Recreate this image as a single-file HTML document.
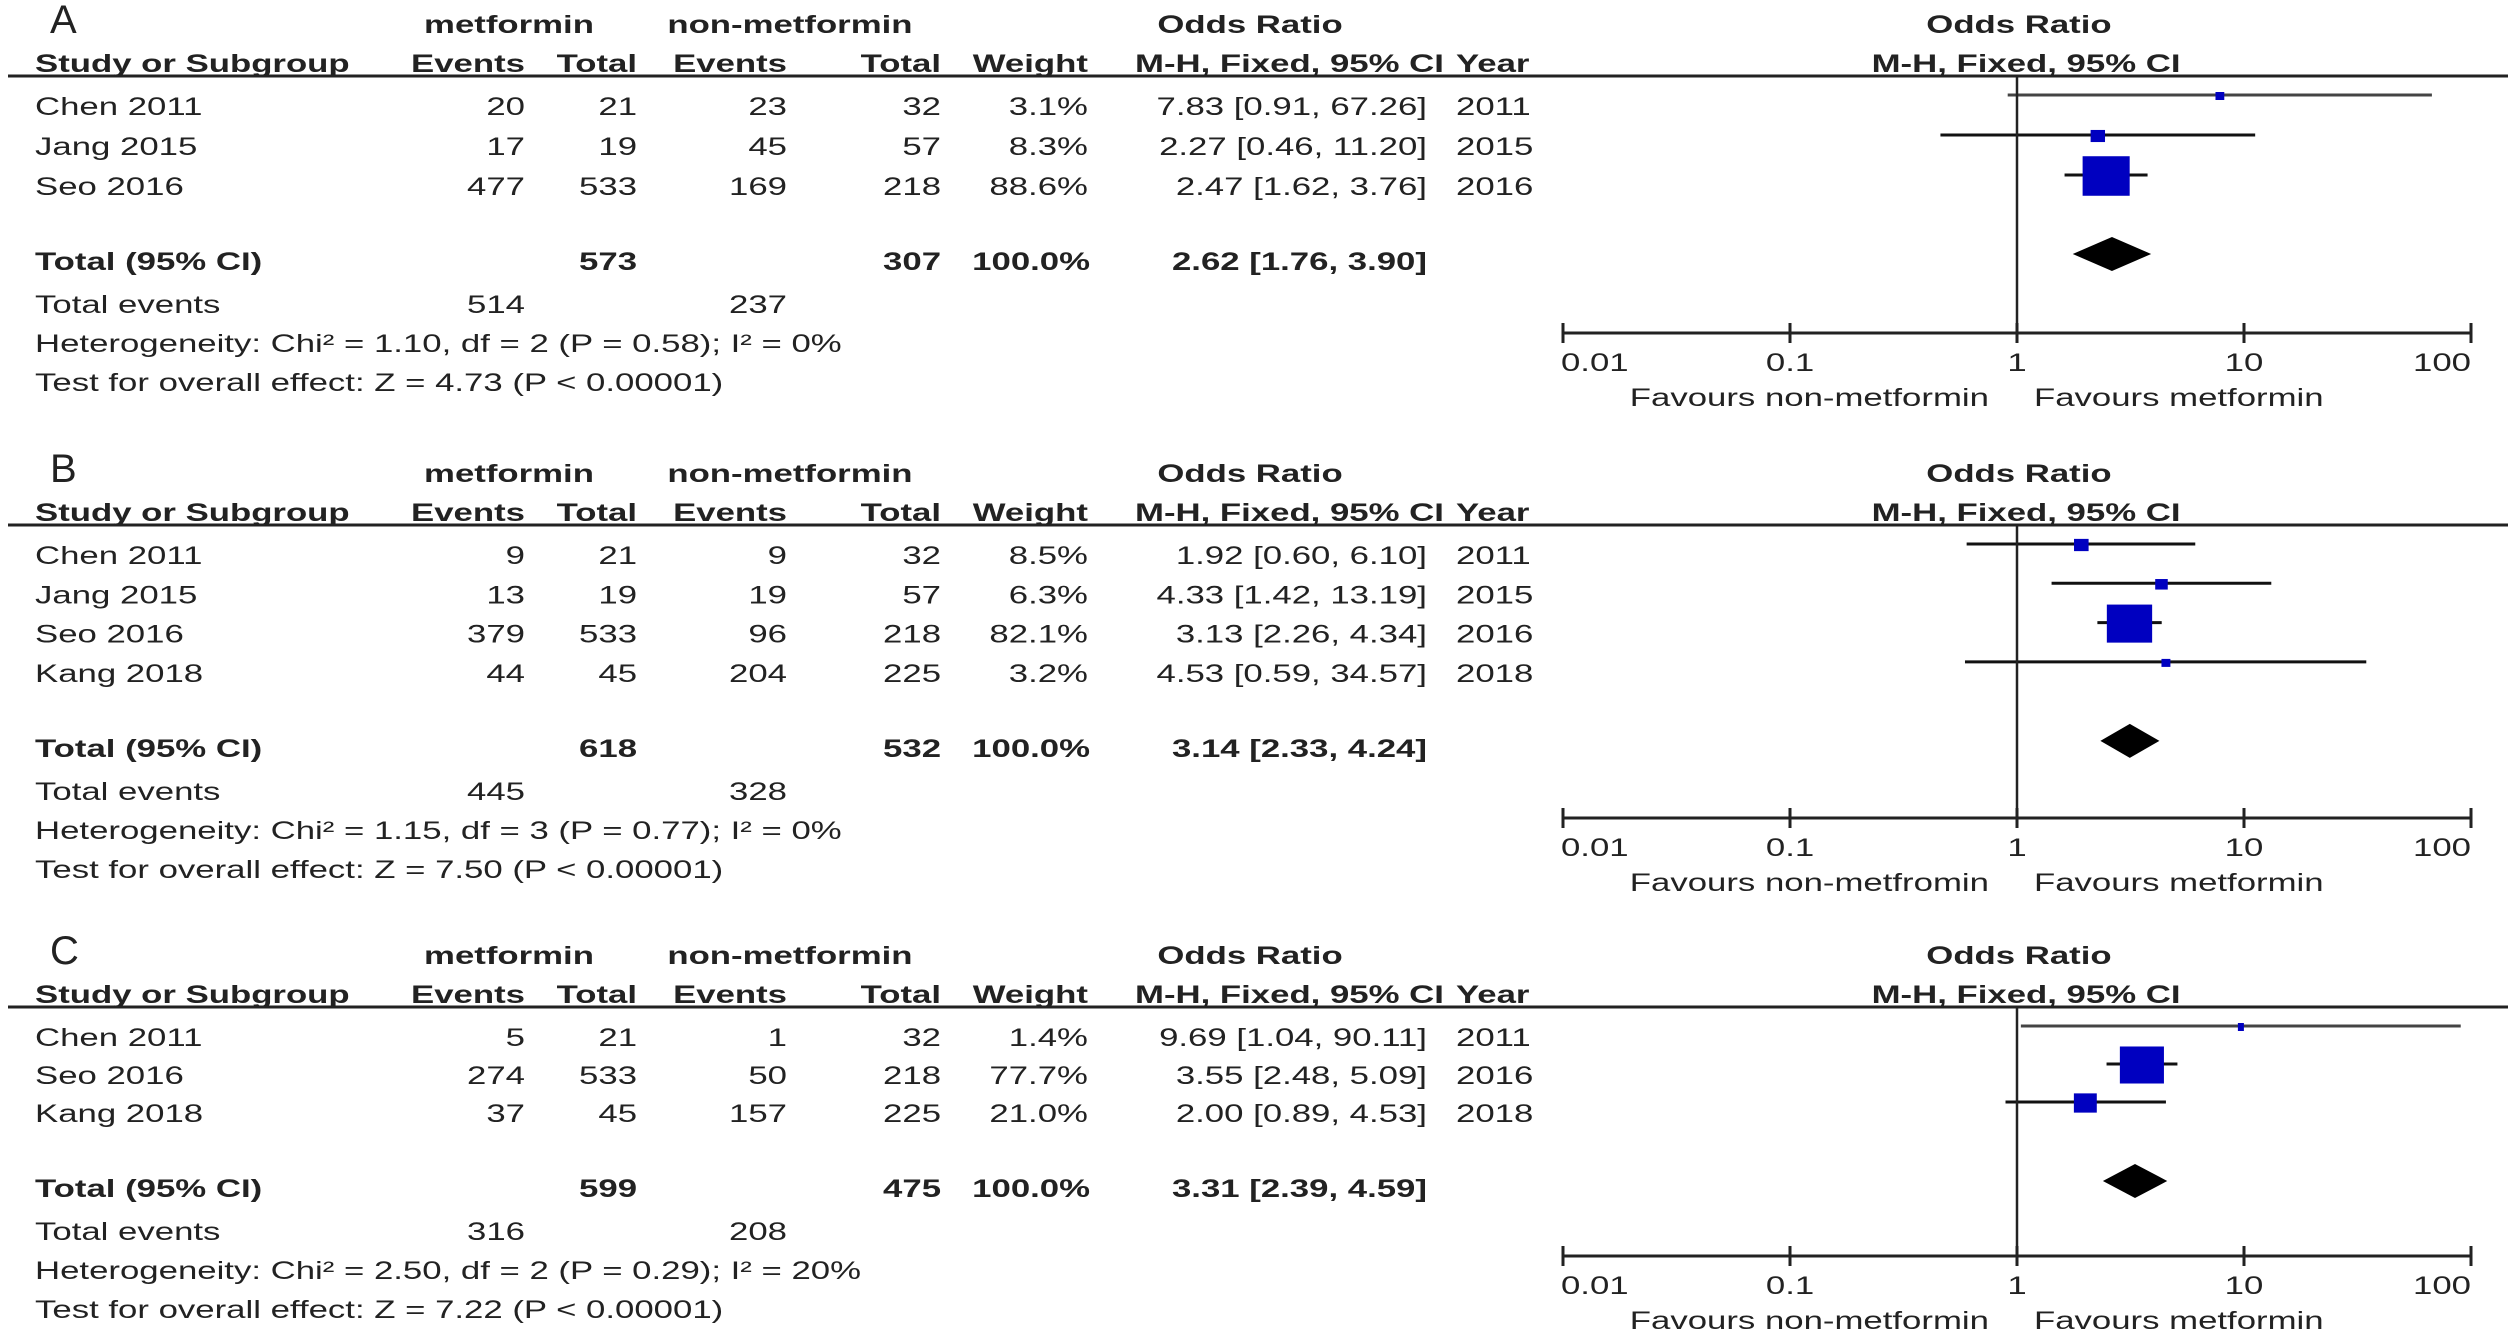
<!DOCTYPE html>
<html><head><meta charset="utf-8"><style>
html,body{margin:0;padding:0;background:#fff;}
svg{display:block;}
text{font-family:"Liberation Sans",Arial,sans-serif;fill:#222;}
</style></head><body>
<svg id="fig" width="2508" height="1333" viewBox="0 0 2508 1333" xmlns="http://www.w3.org/2000/svg"></svg>
<script>
// ---- data ----
const panelLabels = ["A","B","C"];
const studiesA = ["Chen 2011","Jang 2015","Seo 2016"];
const studiesB = ["Chen 2011","Jang 2015","Seo 2016","Kang 2018"];
const studiesC = ["Chen 2011","Seo 2016","Kang 2018"];
const mEventsA=[20,17,477], mTotalA=[21,19,533], nEventsA=[23,45,169], nTotalA=[32,57,218];
const weightA=[3.1,8.3,88.6], orA=[7.83,2.27,2.47], loA=[0.91,0.46,1.62], hiA=[67.26,11.20,3.76], yearA=[2011,2015,2016];
const mEventsB=[9,13,379,44], mTotalB=[21,19,533,45], nEventsB=[9,19,96,204], nTotalB=[32,57,218,225];
const weightB=[8.5,6.3,82.1,3.2], orB=[1.92,4.33,3.13,4.53], loB=[0.60,1.42,2.26,0.59], hiB=[6.10,13.19,4.34,34.57], yearB=[2011,2015,2016,2018];
const mEventsC=[5,274,37], mTotalC=[21,533,45], nEventsC=[1,50,157], nTotalC=[32,218,225];
const weightC=[1.4,77.7,21.0], orC=[9.69,3.55,2.00], loC=[1.04,2.48,0.89], hiC=[90.11,5.09,4.53], yearC=[2011,2016,2018];
const totalM=[573,618,599], totalN=[307,532,475];
const pooledOR=[2.62,3.14,3.31], pooledLo=[1.76,2.33,2.39], pooledHi=[3.90,4.24,4.59];
const totEvM=[514,445,316], totEvN=[237,328,208];
const hetText=["Heterogeneity: Chi² = 1.10, df = 2 (P = 0.58); I² = 0%","Heterogeneity: Chi² = 1.15, df = 3 (P = 0.77); I² = 0%","Heterogeneity: Chi² = 2.50, df = 2 (P = 0.29); I² = 20%"];
const testText=["Test for overall effect: Z = 4.73 (P < 0.00001)","Test for overall effect: Z = 7.50 (P < 0.00001)","Test for overall effect: Z = 7.22 (P < 0.00001)"];
const favLeft=["Favours non-metformin","Favours non-metfromin","Favours non-metformin"];
const tickVals=[0.01,0.1,1,10,100];
const tickLabels=["0.01","0.1","1","10","100"];

// ---- layout ----
const NS="http://www.w3.org/2000/svg";
const svg=document.getElementById('fig');
const SX=1.39;
const offs=[0,449,931];
const rowGap=[40,39.3,38];
const axisY=[333,818,1256];
function xs(v){return 2017+Math.log10(v)*227;}
function f2(v){return v.toFixed(2);}
function el(tag,attrs,parent){const e=document.createElementNS(NS,tag);for(const k in attrs)e.setAttribute(k,attrs[k]);(parent||svg).appendChild(e);return e;}
const tg=el('g',{transform:'scale('+SX+',1)'});


function T(x,y,s,anchor,bold,name){const t=el('text',{x:(x/SX).toFixed(1),y:y,'font-size':25,'text-anchor':anchor||'start'},tg);if(bold)t.setAttribute('font-weight','bold');t.textContent=s;

return t;}
function fmtCI(o,l,h){return f2(o)+' ['+f2(l)+', '+f2(h)+']';}

const P=[
 {st:studiesA,me:mEventsA,mt:mTotalA,ne:nEventsA,nt:nTotalA,w:weightA,or:orA,lo:loA,hi:hiA,yr:yearA},
 {st:studiesB,me:mEventsB,mt:mTotalB,ne:nEventsB,nt:nTotalB,w:weightB,or:orB,lo:loB,hi:hiB,yr:yearB},
 {st:studiesC,me:mEventsC,mt:mTotalC,ne:nEventsC,nt:nTotalC,w:weightC,or:orC,lo:loC,hi:hiC,yr:yearC}];

P.forEach((p,k)=>{
  const o=offs[k];
  const lab=el('text',{x:50,y:o+33,'font-size':40});lab.textContent=panelLabels[k];
  
  
  T(509,o+33,'metformin','middle',true,'metformin-header');
  T(790,o+33,'non-metformin','middle',true,'non-metformin-header');
  T(1250,o+33,'Odds Ratio','middle',true,'odds-ratio-header');
  T(2019,o+33,'Odds Ratio','middle',true,'plot-odds-ratio-header');
  const y2=o+72;
  T(35,y2,'Study or Subgroup','start',true,'study-header');
  T(525,y2,'Events','end',true,'events-header');
  T(637,y2,'Total','end',true,'total-header');
  T(787,y2,'Events','end',true,'events-header');
  T(941,y2,'Total','end',true,'total-header');
  T(1088,y2,'Weight','end',true,'weight-header');
  T(1444,y2,'M-H, Fixed, 95% CI','end',true,'method-header');
  T(1456,y2,'Year','start',true,'year-header');
  T(2026,y2,'M-H, Fixed, 95% CI','middle',true,'plot-method-header');
  const hl=el('line',{x1:8,x2:2508,y1:o+76,y2:o+76,stroke:'#222','stroke-width':3});
  
  
  let lastY=0;
  p.st.forEach((s,i)=>{
    const y=o+115+rowGap[k]*i; lastY=y;
    T(35,y,s,'start',false,'study-name');
    T(525,y,String(p.me[i]),'end',false,'metformin-events');
    T(637,y,String(p.mt[i]),'end',false,'metformin-total');
    T(787,y,String(p.ne[i]),'end',false,'non-metformin-events');
    T(941,y,String(p.nt[i]),'end',false,'non-metformin-total');
    T(1088,y,p.w[i].toFixed(1)+'%','end',false,'weight');
    T(1427,y,fmtCI(p.or[i],p.lo[i],p.hi[i]),'end',false,'odds-ratio-ci');
    T(1456,y,String(p.yr[i]),'start',false,'year');
    const cy=y-20;
    const ci=el('line',{x1:xs(p.lo[i]),x2:xs(p.hi[i]),y1:cy,y2:cy,stroke:(i==0&&k!=1)?'#444':'#111','stroke-width':3});
    
    
    const sw=Math.max(6,5*Math.sqrt(p.w[i])), sh=Math.max(8,4.2*Math.sqrt(p.w[i]));
    const sq=el('rect',{x:xs(p.or[i])-sw/2,y:cy-sh/2+1,width:sw,height:sh,fill:'#0000c0'});
    
    
  });
  const ty=lastY+75;
  T(35,ty,'Total (95% CI)','start',true,'total-label');
  T(637,ty,String(totalM[k]),'end',true,'metformin-total-sum');
  T(941,ty,String(totalN[k]),'end',true,'non-metformin-total-sum');
  T(1090,ty,'100.0%','end',true,'total-weight');
  T(1427,ty,fmtCI(pooledOR[k],pooledLo[k],pooledHi[k]),'end',true,'pooled-odds-ratio');
  const dy=ty-16;
  const dm=el('polygon',{points:[xs(pooledLo[k])+','+dy, xs(pooledOR[k])+','+(dy-17), xs(pooledHi[k])+','+dy, xs(pooledOR[k])+','+(dy+17)].join(' '),fill:'#000'});
  
  
  T(35,ty+43,'Total events','start',false,'total-events-label');
  T(525,ty+43,String(totEvM[k]),'end',false,'metformin-total-events');
  T(787,ty+43,String(totEvN[k]),'end',false,'non-metformin-total-events');
  T(35,ty+82,hetText[k],'start',false,'heterogeneity-text');
  T(35,ty+121,testText[k],'start',false,'overall-effect-text');
  const ay=axisY[k];
  const vl=el('line',{x1:xs(1),x2:xs(1),y1:o+76,y2:ay,stroke:'#222','stroke-width':2.5});
  
  
  const ax=el('line',{x1:xs(0.01),x2:xs(100),y1:ay,y2:ay,stroke:'#222','stroke-width':3});
  
  
  tickVals.forEach((v,j)=>{
    const tk=el('line',{x1:xs(v),x2:xs(v),y1:ay-10,y2:ay+10,stroke:'#222','stroke-width':3});
    
    
    const anc=j==0?'start':(j==tickVals.length-1?'end':'middle');
    T(xs(v)+(j==0?-2:0),ay+38,tickLabels[j],anc,false,'x-tick-label');
  });
  T(1989,ay+73,favLeft[k],'end',false,'favours-left-label');
  T(2034,ay+73,'Favours metformin','start',false,'favours-right-label');
});
</script>
</body></html>
